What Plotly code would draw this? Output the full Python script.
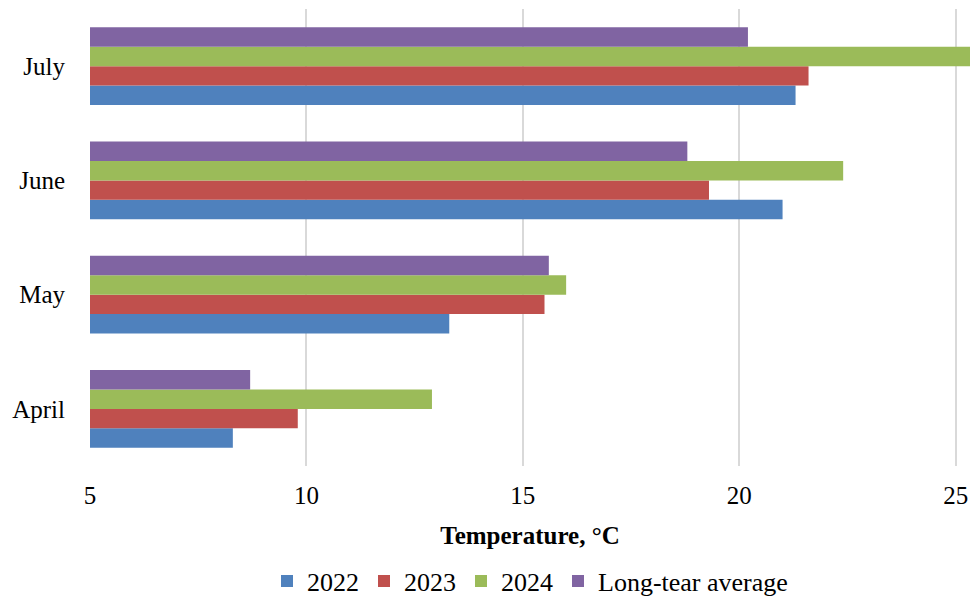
import plotly.graph_objects as go

months = ["April", "May", "June", "July"]
series_names = ["2022", "2023", "2024", "Long-tear average"]
v2022 = [8.3, 13.3, 21.0, 21.3]
v2023 = [9.8, 15.5, 19.3, 21.6]
v2024 = [12.9, 16.0, 22.4, 25.6]
vlta = [8.7, 15.6, 18.8, 20.2]
colors = ["#4F81BD", "#C0504D", "#9BBB59", "#8064A2"]

fig = go.Figure()
for name, vals, col in zip(series_names, [v2022, v2023, v2024, vlta], colors):
    fig.add_trace(go.Bar(y=months, x=vals, name=name, orientation="h",
                         marker=dict(color=col, line=dict(width=0)), base=0))

font_family = "Liberation Serif"
fig.update_layout(
    width=970, height=598,
    margin=dict(l=90, r=0, t=9, b=132, autoexpand=False),
    barmode="group", bargap=0.32, bargroupgap=0,
    plot_bgcolor="white", paper_bgcolor="white",
    font=dict(family=font_family, size=25, color="black"),
    xaxis=dict(range=[5, 25.33], tickvals=[5, 10, 15, 20, 25],
               showgrid=True, gridcolor="#d9d9d9", gridwidth=1.5,
               zeroline=False, ticks="", ticklen=0, automargin=False,
               ticklabelstandoff=12,
               tickfont=dict(size=25, family=font_family),
               title=dict(text="<b>Temperature, °C</b>", font=dict(size=25, family=font_family), standoff=18)),
    yaxis=dict(categoryorder="array", categoryarray=months,
               showgrid=False, zeroline=False, ticks="", ticklen=0, automargin=False,
               ticklabelstandoff=24,
               tickfont=dict(size=25, family=font_family)),
    legend=dict(orientation="h", x=0.5, xanchor="center", y=-0.252, yanchor="middle",
                font=dict(size=26, family=font_family), itemwidth=30, traceorder="normal"),
    showlegend=True,
)
fig.write_html("out.html", config={"displayModeBar": False},
               post_script="document.body.style.margin='0';document.body.style.overflow='hidden';")
